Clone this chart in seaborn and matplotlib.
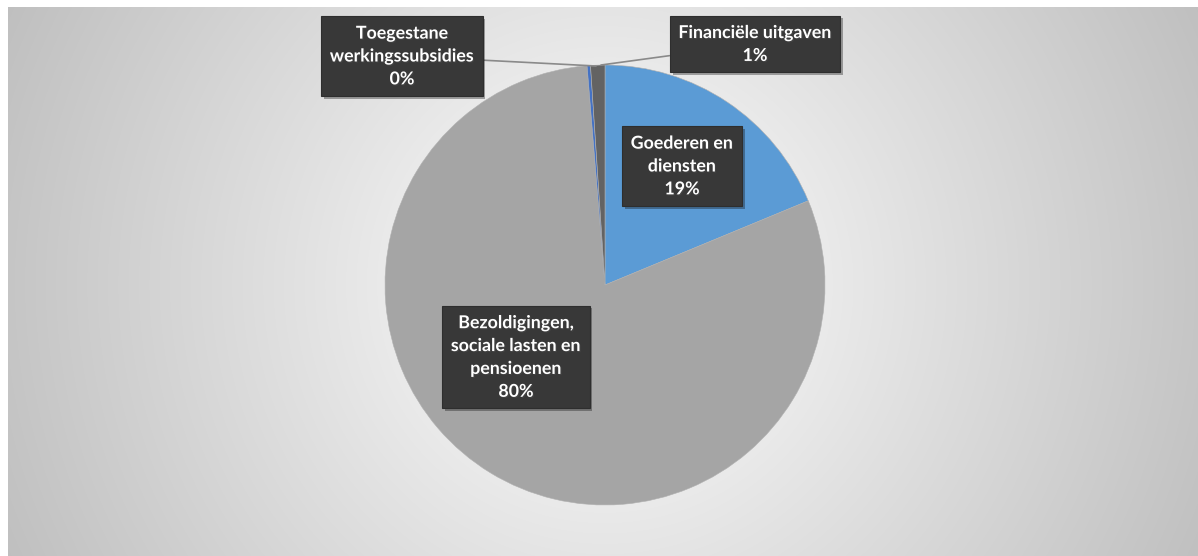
import numpy as np
import matplotlib.pyplot as plt
import matplotlib.patheffects as pe
import seaborn as sns

sns.set_theme(style="white")
plt.rcParams["font.family"] = ["Lato", "DejaVu Sans"]

# slices, clockwise from 12 o'clock
labels = ["Goederen en\ndiensten", "Bezoldigingen,\nsociale lasten en\npensioenen",
          "Toegestane\nwerkingssubsidies", "Financiële uitgaven"]
shares = [18.75, 79.95, 0.25, 1.05]
pct_text = ["19%", "80%", "0%", "1%"]
colors = ["#5B9BD5", "#A5A5A5", "#4472C4", "#636363"]

W, H = 1198, 556
fig = plt.figure(figsize=(W / 100, H / 100), dpi=100)
ax = fig.add_axes([0, 0, 1, 1])

# radial grey background
cx, cy = 605, 271
xx, yy = np.meshgrid(np.arange(8, W) + 0.5, np.arange(0, H - 7) + 0.5)
d = np.hypot(xx - cx, yy - cy) / 660.0
shade = 1.0 - 0.25 * np.clip(d, 0, 1.05)
rgb = np.dstack([shade, shade, shade])
ax.imshow(rgb, origin="lower", extent=(8, W, 0, H - 7), zorder=0,
          interpolation="nearest")

wedges, _ = ax.pie(shares, colors=colors, startangle=90, counterclock=False,
                   radius=220, center=(cx, cy), frame=True,
                   wedgeprops=dict(linewidth=0.4, edgecolor="#b0b0b0"))
for w in wedges:
    w.set_zorder(2)

# label boxes (pixel units, y measured from the bottom)
label_pos = [(682, 390), (516, 199), (402, 500), (755, 512)]
leader = [None, None, (596, 490), (601, 491)]

for i, (lab, pct) in enumerate(zip(labels, pct_text)):
    if leader[i] is not None:
        kw = dict(xy=leader[i], xycoords="data",
                  arrowprops=dict(arrowstyle="-", color="#8a8a8a", lw=1.2,
                                  shrinkA=0, shrinkB=0))
    else:
        kw = dict(xy=label_pos[i], xycoords="data")
    t = ax.annotate(lab + "\n" + pct, xytext=label_pos[i], textcoords="data",
                    ha="center", va="center", color="white", fontsize=12.8,
                    fontweight="bold", linespacing=1.42, zorder=5,
                    bbox=dict(boxstyle="square,pad=0.48", facecolor="#383838",
                              edgecolor="#2e2e2e", lw=0.8), **kw)
    t.set_path_effects([pe.withSimplePatchShadow(offset=(0.8, -0.8), alpha=0.5)])
    t.get_bbox_patch().set_path_effects(
        [pe.SimplePatchShadow(offset=(2, -2), alpha=0.35), pe.Normal()])

ax.set_xlim(0, W)
ax.set_ylim(0, H)
ax.set_aspect("auto")
ax.axis("off")
fig.patch.set_facecolor("white")

plt.savefig("out.png", dpi=100)
